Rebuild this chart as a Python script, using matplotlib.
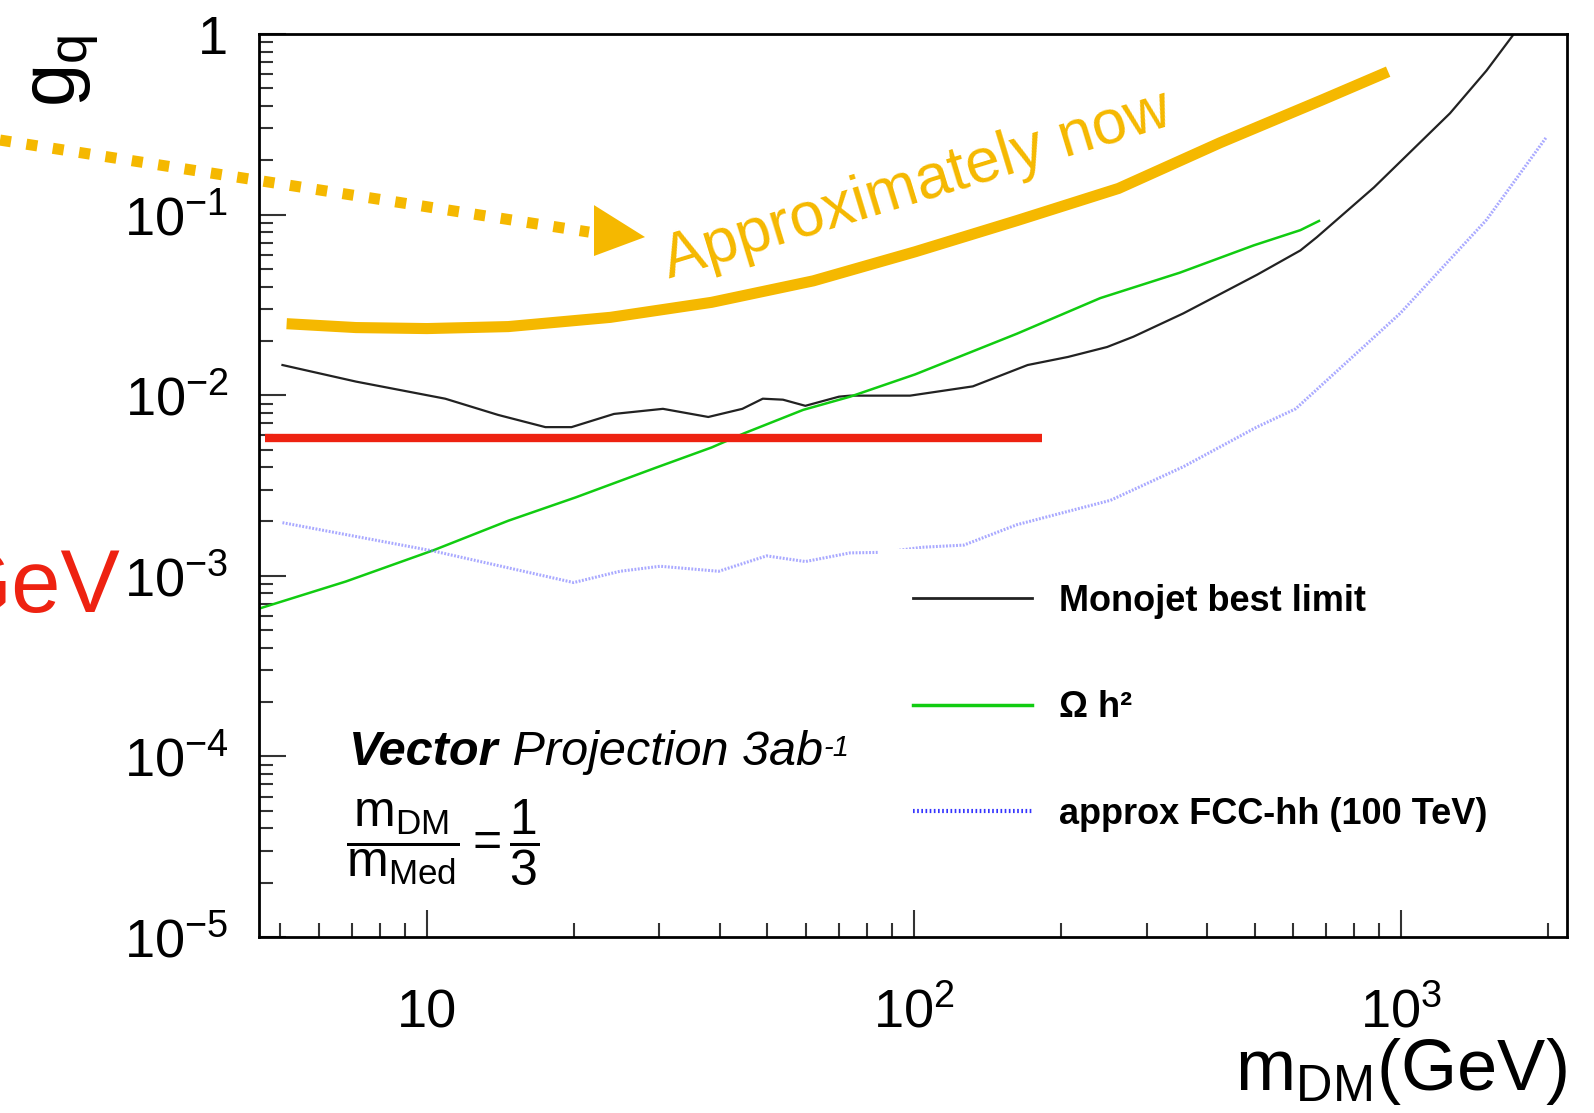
import matplotlib
matplotlib.use('Agg')
import matplotlib.pyplot as plt
import matplotlib.patches as mpatches
from matplotlib.ticker import LogLocator, NullFormatter

plt.rcParams['font.family'] = 'Liberation Sans'
plt.rcParams['mathtext.fontset'] = 'custom'
plt.rcParams['mathtext.rm'] = 'Liberation Sans'
plt.rcParams['mathtext.it'] = 'Liberation Sans:italic'
plt.rcParams['mathtext.bf'] = 'Liberation Sans:bold'

# monojet best limit
mono_x = [5.05, 7.15, 10.9, 14.0, 17.5, 19.8, 24.2, 30.5, 37.8, 44.4, 48.9, 53.8, 59.8,
          70.1, 73.9, 98.1, 132, 171, 207, 249, 282, 357, 506, 621, 671, 879, 1259, 1496, 1698]
mono_y = [0.0147, 0.0119, 0.00957, 0.00778, 0.00666, 0.00666, 0.00788, 0.00841, 0.00758,
          0.00841, 0.00957, 0.00945, 0.00874, 0.00982, 0.00995, 0.00995, 0.0112, 0.0147,
          0.0163, 0.0185, 0.0211, 0.0284, 0.0465, 0.0634, 0.0750, 0.1415, 0.364, 0.627, 0.99]

# relic density
relic_x = [4.50, 6.81, 10.34, 14.69, 20.2, 29.5, 38.4, 44.8, 59.2, 73.9, 100.5, 162.6,
           241, 351, 498, 621, 678]
relic_y = [0.000656, 0.000930, 0.00139, 0.00202, 0.00272, 0.00397, 0.00514, 0.00616,
           0.00830, 0.00982, 0.01305, 0.02192, 0.0345, 0.0477, 0.0676, 0.0821, 0.0923]

# FCC-hh projection
fcc_x = [5.05, 10.34, 20.0, 24.9, 30.1, 39.7, 49.8, 59.8, 73.9, 86.5, 104, 126.5, 162.6,
         253, 357, 505, 607, 995, 1496, 1989]
fcc_y = [0.00197, 0.00137, 0.000918, 0.00106, 0.00113, 0.00106, 0.00129, 0.00120, 0.00134,
         0.00135, 0.00144, 0.00148, 0.00192, 0.00262, 0.00402, 0.00666, 0.00841, 0.0284,
         0.0935, 0.270]

# hand drawn "approximately now" curve
now_x = [5.15, 7.15, 10.0, 14.69, 23.8, 38.4, 62.1, 100.5, 162.6, 262.8, 424.6, 687, 940]
now_y = [0.0249, 0.0237, 0.0234, 0.0240, 0.0270, 0.0327, 0.0430, 0.0623, 0.0927, 0.1397,
         0.250, 0.431, 0.619]

# red horizontal line
red_x = [4.66, 183]
red_y = [0.00577, 0.00577]

xtick_vals = [10, 100, 1000]
xtick_labels = ['10', r'$10^{2}$', r'$10^{3}$']
ytick_vals = [1e-5, 1e-4, 1e-3, 1e-2, 1e-1, 1]
ytick_labels = [r'$10^{-5}$', r'$10^{-4}$', r'$10^{-3}$', r'$10^{-2}$', r'$10^{-1}$', '1']

ORANGE = '#F5B800'
RED = '#EE2211'

fig = plt.figure(figsize=(15.94, 11.13), dpi=100)
ax = fig.add_axes([0.1625, 0.1581, 0.8206, 0.8113])
ax.set_xscale('log')
ax.set_yscale('log')

l1, = ax.plot(mono_x, mono_y, color='#222222', lw=1.6, label='Monojet best limit')
l2, = ax.plot(relic_x, relic_y, color='#11cc11', lw=1.8, label='Ω h²')
l3, = ax.plot(fcc_x, fcc_y, color='#7070ff', lw=2.2, ls=(0, (0.6, 0.5)), alpha=0.6,
              label='approx FCC-hh (100 TeV)')
ax.plot(now_x, now_y, color=ORANGE, lw=8, solid_capstyle='butt', solid_joinstyle='round', zorder=4)
ax.plot(red_x, red_y, color=RED, lw=6, solid_capstyle='butt', zorder=4)

ax.set_xlim(4.52, 2190)
ax.set_ylim(1e-5, 1)

ax.set_xticks(xtick_vals, labels=xtick_labels)
ax.set_yticks(ytick_vals, labels=ytick_labels)
ax.xaxis.set_minor_locator(LogLocator(base=10, subs=range(2, 10), numticks=20))
ax.yaxis.set_minor_locator(LogLocator(base=10, subs=range(2, 10), numticks=20))
ax.xaxis.set_minor_formatter(NullFormatter())
ax.yaxis.set_minor_formatter(NullFormatter())
ax.tick_params(which='both', direction='in', top=False, right=False, width=1.5, color='#333333')
ax.tick_params(which='major', length=19.5, labelsize=39)
ax.tick_params(which='minor', length=10)
ax.tick_params(axis='x', which='major', pad=65)
ax.tick_params(axis='y', which='major', pad=22)
for lbl in ax.get_xticklabels():
    lbl.set_va('baseline')
for s in ax.spines.values():
    s.set_linewidth(2)

ax.set_ylabel(r'$\mathrm{g}_{\mathrm{q}}$', fontsize=56, loc='top', labelpad=16)
ax.set_xlabel(r'$\mathrm{m}_{\mathrm{DM}}$(GeV)', fontsize=52, loc='right', labelpad=-2)

# white legend box hides a bit of the FCC curve, as in the original
leg = ax.legend(handles=[l1, l2, l3], loc='upper left', bbox_to_anchor=(0.4735, 0.4293),
                borderaxespad=0, frameon=True, facecolor='white', edgecolor='none',
                framealpha=1, fancybox=False, borderpad=0.955, handlelength=3.3,
                handletextpad=0.75, labelspacing=1.98,
                prop={'family': 'Liberation Sans', 'weight': 'bold', 'size': 26})
h3 = leg.legend_handles[2]
h3.set_alpha(1)
h3.set_color('#3535ff')
h3.set_linewidth(3)
h3.set_linestyle((0, (0.4, 0.6)))
leg.legend_handles[0].set_linewidth(2)
leg.legend_handles[1].set_linewidth(2.5)

t1 = ax.text(0.0688, 0.1905, 'Vector', transform=ax.transAxes, fontsize=35,
             weight='bold', style='italic', ha='left', va='baseline')
t2 = ax.annotate(' Projection 3ab', xy=(1, 0), xycoords=t1, fontsize=35,
                 style='italic', ha='left', va='bottom')
ax.annotate('-1', xy=(1, 1), xycoords=t2, xytext=(1, -3), textcoords='offset points',
            fontsize=21, style='italic', ha='left', va='top')
ax.text(0.0665, 0.1041, r'$\dfrac{\mathrm{m}_{\mathrm{DM}}}{\mathrm{m}_{\mathrm{Med}}} = \dfrac{1}{3}$',
        transform=ax.transAxes, fontsize=36, ha='left', va='center')

# annotations drawn on top of the plot
ax.text(0.3135, 0.7287, 'Approximately now', transform=ax.transAxes, color=ORANGE,
        fontsize=45, rotation=17, rotation_mode='anchor', ha='left', va='baseline')
ax.plot([-0.198, 0.2523], [0.8826, 0.7807], transform=ax.transAxes, clip_on=False,
        color=ORANGE, lw=8, ls=(0, (1, 1.4)), dash_capstyle='butt', zorder=5)
head = mpatches.Polygon([[0.2561, 0.8106], [0.2561, 0.7542], [0.2951, 0.7752]],
                        closed=True, transform=ax.transAxes, clip_on=False,
                        facecolor=ORANGE, edgecolor='none', zorder=5)
ax.add_patch(head)
fig.text(0.0753, 0.4501, 'GeV', color=RED, fontsize=64, ha='right', va='baseline')

fig.savefig('out.png', dpi=100)
